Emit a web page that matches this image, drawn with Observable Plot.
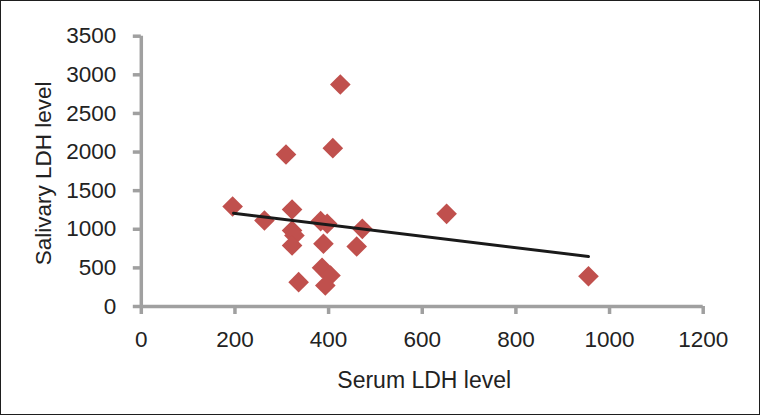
<!DOCTYPE html>
<html><head><meta charset="utf-8">
<script src="https://cdn.jsdelivr.net/npm/d3@7"></script>
<script src="https://cdn.jsdelivr.net/npm/@observablehq/plot@0.6"></script>
<style>
html,body{margin:0;padding:0;background:#fff;}
#frame{width:760px;height:415px;box-sizing:border-box;border:1px solid #1e1e1e;overflow:hidden;background:#fff;}
#frame svg{display:block;}
</style></head><body><div id="frame"></div>
<script>
const serumLDH    = [425, 409, 309, 195, 263, 322, 322, 327, 322, 383, 397, 389, 472, 460, 386, 404, 393, 336, 652, 955];
const salivaryLDH = [2875, 2050, 1968, 1295, 1114, 1256, 984, 919, 790, 1105, 1071, 812, 1006, 777, 501, 401, 272, 315, 1200, 392];
const trendX = [197, 955];
const trendY = [1208, 648];
const xTicks = [0, 200, 400, 600, 800, 1000, 1200];
const yTicks = [0, 500, 1000, 1500, 2000, 2500, 3000, 3500];
const xLabel = "Serum LDH level";
const yLabel = "Salivary LDH level";

const points = serumLDH.map((x, i) => ({x, y: salivaryLDH[i]}));
const trend = trendX.map((x, i) => ({x, y: trendY[i]}));

const axisGray = "#a0a0a0";
const textColor = "#222";
const font = "'Liberation Sans', Arial, sans-serif";

const chart = Plot.plot({
  width: 758,
  height: 413,
  marginLeft: 139.8,
  marginRight: 56.3,
  marginTop: 34.7,
  marginBottom: 108,
  style: {fontFamily: font, fontSize: "22px", color: textColor, background: "#fff", overflow: "visible"},
  x: {domain: [0, 1200]},
  y: {domain: [0, 3500]},
  marks: [
    Plot.ruleY([0], {stroke: axisGray, strokeWidth: 3.5}),
    Plot.ruleX([0], {stroke: axisGray, strokeWidth: 3.5}),
    Plot.axisX({ticks: xTicks, tickSize: 8, tickPadding: 17, stroke: axisGray, strokeWidth: 3.5, fill: textColor, fontSize: 22.5, label: null, tickFormat: d => String(d)}),
    Plot.axisY({ticks: yTicks, tickSize: 8, tickPadding: 17, stroke: axisGray, strokeWidth: 3.5, fill: textColor, fontSize: 22.5, label: null, tickFormat: d => String(d)}),
    Plot.dot(points, {x: "x", y: "y", symbol: "diamond2", r: 9.3, fill: "#C0504D", stroke: "none"}),
    Plot.line(trend, {x: "x", y: "y", stroke: "#1a1a1a", strokeWidth: 3}),
    Plot.text([xLabel], {frameAnchor: "bottom", dy: 74, dx: 2, lineAnchor: "middle", fontSize: 23, fill: textColor}),
    Plot.text([yLabel], {frameAnchor: "left", dx: -97.3, dy: 2, rotate: -90, lineAnchor: "middle", textAnchor: "middle", fontSize: 22.5, fill: textColor})
  ]
});
document.getElementById("frame").appendChild(chart);
</script>
</body></html>
